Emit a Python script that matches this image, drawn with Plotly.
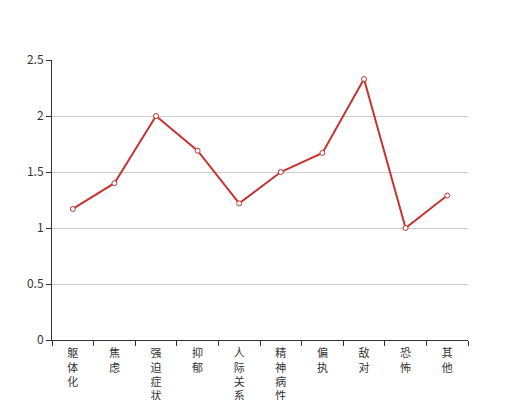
import plotly.graph_objects as go

# 因子名称 / 因子均分
categories = ["躯体化", "焦虑", "强迫症状", "抑郁", "人际关系敏感",
              "精神病性", "偏执", "敌对", "恐怖", "其他"]
scores = [1.17, 1.40, 2.00, 1.69, 1.22, 1.50, 1.67, 2.33, 1.00, 1.29]
y_ticks = [0, 0.5, 1, 1.5, 2, 2.5]
y_tick_text = ["0", "0.5", "1", "1.5", "2", "2.5"]

# 竖排文字
vertical_labels = ["<br>".join(list(c)) for c in categories]

fig = go.Figure()

fig.add_trace(go.Scatter(
    x=categories,
    y=scores,
    mode="lines+markers",
    line=dict(color="#c23531", width=2),
    marker=dict(symbol="circle", size=5, color="white",
                line=dict(color="#c23531", width=1)),
    showlegend=False,
    hoverinfo="x+y",
))

# 页面 body 有 8px 边距，这里扣掉
fig.update_layout(
    width=520,
    height=400,
    margin=dict(l=44, r=60, t=52, b=68),
    plot_bgcolor="white",
    paper_bgcolor="white",
    font=dict(family="Noto Sans CJK SC, sans-serif", size=12, color="#333"),
)

fig.update_xaxes(
    range=[-0.5, len(categories) - 0.5],
    tickmode="array",
    tickvals=categories,
    ticktext=vertical_labels,
    tickangle=0,
    ticks="outside",
    tickson="boundaries",
    ticklen=5,
    tickcolor="#333",
    ticklabelstandoff=3,
    showline=True,
    linecolor="#333",
    linewidth=1,
    showgrid=False,
    automargin=False,
    tickfont=dict(size=11, color="#333"),
)

fig.update_yaxes(
    range=[0, 2.5],
    tickmode="array",
    tickvals=y_ticks,
    ticktext=y_tick_text,
    ticks="outside",
    ticklen=5,
    tickcolor="#333",
    showline=True,
    linecolor="#333",
    linewidth=1,
    showgrid=True,
    gridcolor="#ccc",
    gridwidth=1,
    zeroline=False,
    automargin=False,
    tickfont=dict(size=12, color="#333"),
)

fig.write_html("out.html")
